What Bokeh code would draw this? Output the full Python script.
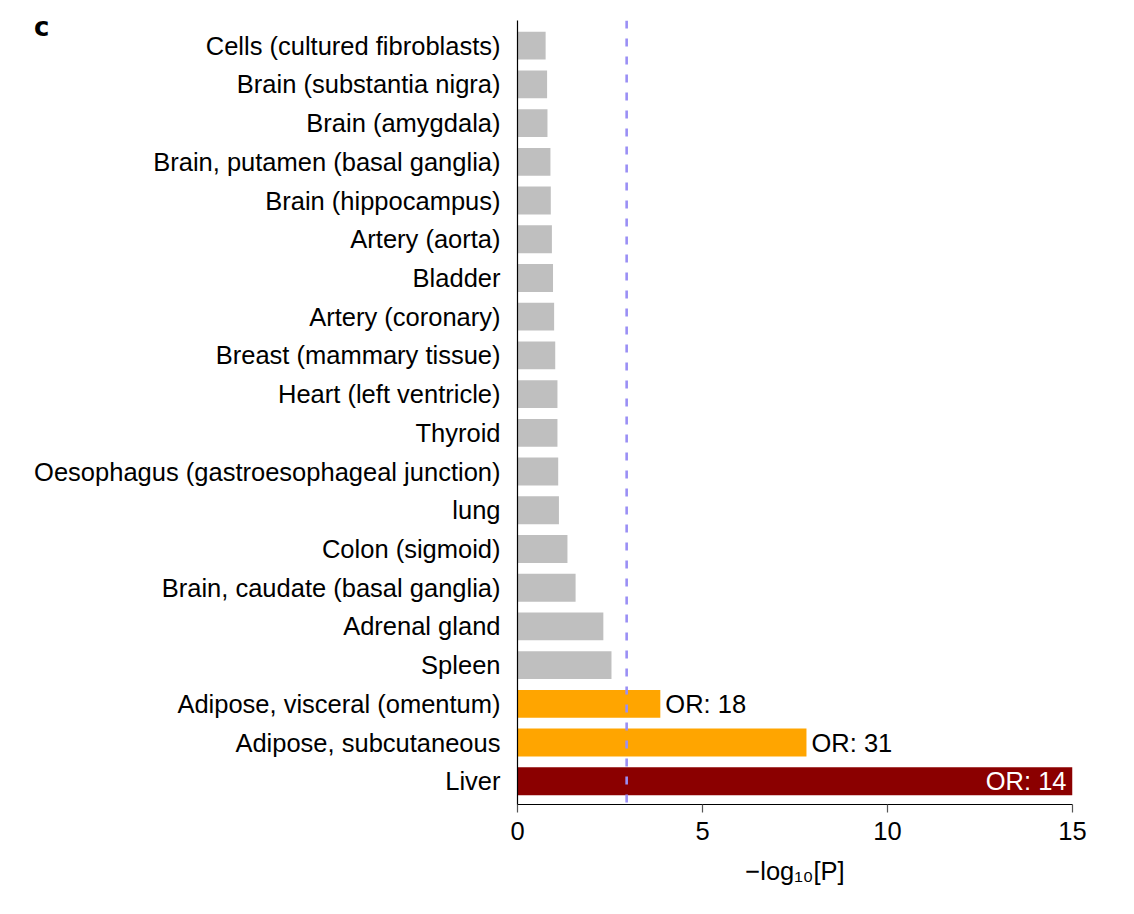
from bokeh.plotting import figure
from bokeh.models import Range1d, Span, ColumnDataSource, FixedTicker, LinearAxis
from bokeh.embed import file_html
from bokeh.resources import INLINE
from bokeh.core.properties import value

tissues = [
    "Cells (cultured fibroblasts)",
    "Brain (substantia nigra)",
    "Brain (amygdala)",
    "Brain, putamen (basal ganglia)",
    "Brain (hippocampus)",
    "Artery (aorta)",
    "Bladder",
    "Artery (coronary)",
    "Breast (mammary tissue)",
    "Heart (left ventricle)",
    "Thyroid",
    "Oesophagus (gastroesophageal junction)",
    "lung",
    "Colon (sigmoid)",
    "Brain, caudate (basal ganglia)",
    "Adrenal gland",
    "Spleen",
    "Adipose, visceral (omentum)",
    "Adipose, subcutaneous",
    "Liver",
]
neglog10p = [0.76, 0.80, 0.81, 0.89, 0.90, 0.93, 0.96, 0.99, 1.02, 1.08,
             1.08, 1.10, 1.12, 1.35, 1.57, 2.32, 2.54, 3.86, 7.81, 15.0]
bar_colors = ["#bfbfbf"] * 17 + ["#ffa500", "#ffa500", "#8b0000"]
threshold = 2.95
x_ticks = [0, 5, 10, 15]
x_title = "\u2212log\u2081\u2080[P]"
panel_letter = "c"

or_outside_tissues = ["Adipose, visceral (omentum)", "Adipose, subcutaneous"]
or_outside_text = ["OR: 18", "OR: 31"]
or_inside_tissues = ["Liver"]
or_inside_text = ["OR: 14"]

n = len(tissues)
ypos = {t: n - 1 - i for i, t in enumerate(tissues)}
val = dict(zip(tissues, neglog10p))

FONT = "Liberation Sans"
FS = "25.5px"

X0, X1 = 0, 15
Y0, Y1 = -0.6, n - 1 + 0.65
FRAME_H = 784
px_y = (Y1 - Y0) / FRAME_H

src = ColumnDataSource(dict(
    y=[ypos[t] for t in tissues],
    right=neglog10p,
    color=bar_colors,
))

p = figure(width=1118, height=908, output_backend="svg", toolbar_location=None,
           x_range=Range1d(X0, X1), y_range=Range1d(Y0, Y1),
           min_border_left=517, min_border_right=46, min_border_top=20,
           min_border_bottom=104)
p.outline_line_color = None
p.grid.visible = False
p.background_fill_color = "white"
p.border_fill_color = "white"

p.hbar(y="y", left=0, right="right", height=0.72, color="color",
       line_color=None, source=src)

p.add_layout(Span(location=threshold, dimension="height", line_color="#9a8ff5",
                  line_width=2.6, line_dash="8 10"))

src_out = ColumnDataSource(dict(
    x=[val[t] for t in or_outside_tissues],
    y=[ypos[t] for t in or_outside_tissues],
    text=or_outside_text,
))
p.text(x="x", y="y", text="text", source=src_out, x_offset=5,
       text_align="left", text_baseline="middle", text_color="black",
       text_font=value(FONT), text_font_size=FS)
src_in = ColumnDataSource(dict(
    x=[val[t] for t in or_inside_tissues],
    y=[ypos[t] for t in or_inside_tissues],
    text=or_inside_text,
))
p.text(x="x", y="y", text="text", source=src_in, x_offset=-6,
       text_align="right", text_baseline="middle", text_color="white",
       text_font=value(FONT), text_font_size=FS)

# y axis
p.yaxis.ticker = FixedTicker(ticks=list(range(n)))
p.yaxis.major_label_overrides = {ypos[t]: t for t in tissues}
p.yaxis.major_tick_line_color = None
p.yaxis.major_tick_out = 0
p.yaxis.major_tick_in = 0
p.yaxis.minor_tick_line_color = None
p.yaxis.axis_line_color = "black"
p.yaxis.axis_line_width = 1.2
p.yaxis.major_label_text_font = FONT
p.yaxis.major_label_text_font_size = FS
p.yaxis.major_label_text_color = "black"
p.yaxis.major_label_standoff = 17

# panel letter, carried by an extra (invisible-line) left axis
c_y = Y1 - (26 - 20) * px_y
ax_c = LinearAxis(ticker=FixedTicker(ticks=[c_y]),
                  major_label_overrides={c_y: panel_letter},
                  axis_line_color=None, major_tick_line_color=None,
                  minor_tick_line_color=None, major_tick_out=0, major_tick_in=0,
                  major_label_text_font="DejaVu Sans", major_label_text_font_size="26px",
                  major_label_text_font_style="bold",
                  major_label_text_color="black", major_label_standoff=-18)
p.add_layout(ax_c, "left")

# x axis
p.xaxis.ticker = FixedTicker(ticks=x_ticks)
p.xaxis.minor_tick_line_color = None
p.xaxis.major_tick_line_color = "#555555"
p.xaxis.major_tick_line_width = 1.2
p.xaxis.major_tick_out = 8
p.xaxis.major_tick_in = 0
p.xaxis.axis_line_color = "black"
p.xaxis.axis_line_width = 1.2
p.xaxis.major_label_text_font = FONT
p.xaxis.major_label_text_font_size = FS
p.xaxis.major_label_text_color = "black"
p.xaxis.major_label_standoff = 9
p.xaxis.axis_label = x_title
p.xaxis.axis_label_text_font = FONT
p.xaxis.axis_label_text_font_size = FS
p.xaxis.axis_label_text_font_style = "normal"
p.xaxis.axis_label_text_color = "black"
p.xaxis.axis_label_standoff = 14

open("out.html", "w").write(file_html(p, INLINE))
